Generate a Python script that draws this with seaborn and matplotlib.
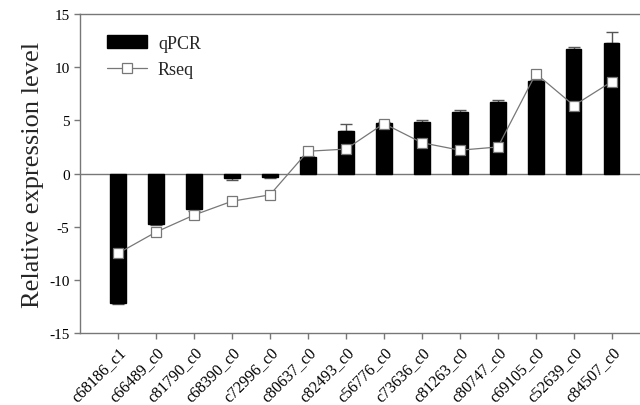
import matplotlib
matplotlib.use("Agg")
import matplotlib.pyplot as plt
import numpy as np
import seaborn as sns

# --- data --------------------------------------------------------------------
genes = ["c68186_c1", "c66489_c0", "c81790_c0", "c68390_c0", "c72996_c0",
         "c80637_c0", "c82493_c0", "c56776_c0", "c73636_c0", "c81263_c0",
         "c80747_c0", "c69105_c0", "c52639_c0", "c84507_c0"]
qpcr = [-12.2, -4.7, -3.3, -0.4, -0.3, 1.6, 4.0, 4.75, 4.85, 5.8,
        6.75, 8.7, 11.7, 12.25]
qpcr_err = [0.1, 0.15, 0.2, 0.25, 0.1, 0.05, 0.65, 0.1, 0.15, 0.15,
            0.2, 0.1, 0.2, 1.05]
rseq = [-7.5, -5.5, -3.9, -2.6, -2.0, 2.1, 2.3, 4.7, 2.9, 2.2,
        2.5, 9.4, 6.4, 8.65]
yticks = [-15, -10, -5, 0, 5, 10, 15]

sns.set_style("ticks")
plt.rcParams['font.family'] = ['Liberation Serif', 'DejaVu Serif']

fig = plt.figure(figsize=(6.4, 4.06), dpi=100)
ax = fig.add_axes([0.125, 0.177, 0.875, 0.786])

x = np.arange(len(genes))
sns.barplot(x=x, y=qpcr, color="black", width=0.4, saturation=1,
            edgecolor="black", ax=ax, label="qPCR", zorder=2)

# error bars only on the outer side of each bar
lower = [e if v < 0 else 0 for v, e in zip(qpcr, qpcr_err)]
upper = [e if v >= 0 else 0 for v, e in zip(qpcr, qpcr_err)]
ax.errorbar(x, qpcr, yerr=[lower, upper], fmt="none", ecolor="#555555",
            elinewidth=1, capsize=4, capthick=1, zorder=1)

ax.plot(x, rseq, color="#777777", linewidth=0.9, marker="s", markersize=7,
        markerfacecolor="white", markeredgecolor="#777777",
        markeredgewidth=0.9, label="Rseq", zorder=3)

ax.axhline(0, color="#777777", linewidth=1, zorder=1)

ax.set_xlim(-1, 13.74)
ax.set_ylim(-15, 15)
ax.set_yticks(yticks)
ax.set_yticklabels([str(t) for t in yticks], fontsize=11)
ax.set_xticks(x)
ax.set_xticklabels(genes, rotation=45, ha="right", rotation_mode="anchor",
                   fontsize=11.5)
ax.set_ylabel("Relative expression level", fontsize=19)
ax.set_xlabel("")

for side in ("left", "bottom", "top"):
    ax.spines[side].set_color("#777777")
    ax.spines[side].set_linewidth(1)
ax.spines["right"].set_visible(False)
ax.tick_params(colors="black", length=4, width=1)
ax.tick_params(axis="both", color="#777777")

handles, labels = ax.get_legend_handles_labels()
order = [labels.index("qPCR"), labels.index("Rseq")]
ax.legend([handles[i] for i in order], [labels[i] for i in order],
          loc="upper left", bbox_to_anchor=(0.02, 0.985), frameon=False,
          fontsize=13, handlelength=2.2, handletextpad=0.6, labelspacing=0.5)

fig.savefig("out.png", dpi=100)
